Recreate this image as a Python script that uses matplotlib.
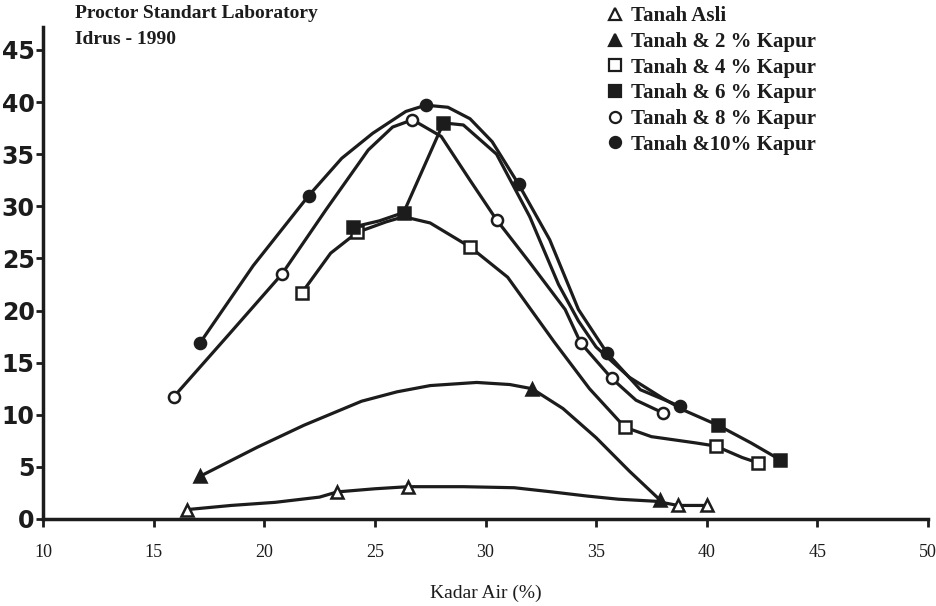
import matplotlib
matplotlib.use('Agg')
import matplotlib.pyplot as plt
from matplotlib.lines import Line2D

# (kadar air % vs value)
asli_x = [16.5, 18.5, 20.5, 22.5, 23.3, 25.0, 26.5, 29.0, 31.3, 33.0, 34.6, 36.0, 37.7, 38.7, 40.0]
asli_y = [0.9, 1.3, 1.6, 2.1, 2.6, 2.9, 3.1, 3.1, 3.0, 2.6, 2.2, 1.9, 1.7, 1.3, 1.3]
asli_marks = [0, 4, 6, 13, 14]

kapur2_x = [17.1, 19.7, 21.8, 24.4, 26.0, 27.5, 29.6, 31.1, 32.1, 33.5, 35.0, 36.5, 37.3, 37.9]
kapur2_y = [4.1, 6.9, 9.0, 11.3, 12.2, 12.8, 13.1, 12.9, 12.5, 10.6, 7.8, 4.6, 3.0, 1.8]
kapur2_marks = [0, 8, 13]

kapur4_x = [21.7, 23.0, 24.2, 25.5, 26.3, 27.5, 29.3, 31.0, 33.1, 34.7, 36.3, 37.5, 39.5, 40.4, 41.6, 42.3]
kapur4_y = [21.7, 25.5, 27.5, 28.5, 29.0, 28.4, 26.1, 23.2, 17.0, 12.5, 8.8, 7.9, 7.3, 7.0, 5.9, 5.4]
kapur4_marks = [0, 2, 6, 10, 13, 15]

kapur6_x = [24.0, 25.2, 26.3, 28.1, 29.0, 30.5, 32.0, 33.3, 34.2, 35.0, 36.5, 38.0, 39.0, 40.5, 42.0, 43.3]
kapur6_y = [28.0, 28.6, 29.4, 38.0, 37.8, 35.0, 29.0, 22.5, 19.0, 16.5, 13.6, 11.6, 10.4, 9.0, 7.3, 5.7]
kapur6_marks = [0, 2, 3, 13, 15]

kapur8_x = [15.9, 18.4, 20.8, 22.8, 24.7, 25.8, 26.7, 28.0, 29.3, 30.5, 32.0, 33.6, 34.3, 35.7, 36.8, 38.0]
kapur8_y = [11.7, 17.7, 23.5, 29.7, 35.4, 37.6, 38.3, 36.7, 32.5, 28.7, 24.6, 20.1, 16.9, 13.5, 11.4, 10.2]
kapur8_marks = [0, 2, 6, 9, 12, 13, 15]

kapur10_x = [17.1, 19.5, 22.0, 23.5, 24.9, 26.4, 27.3, 28.3, 29.3, 30.3, 31.5, 32.9, 34.2, 35.5, 37.0, 38.8]
kapur10_y = [16.9, 24.3, 31.0, 34.6, 37.0, 39.1, 39.7, 39.5, 38.4, 36.2, 32.1, 26.8, 20.1, 15.9, 12.4, 10.8]
kapur10_marks = [0, 2, 6, 10, 13, 15]

labels = ['Tanah Asli', 'Tanah & 2 % Kapur', 'Tanah & 4 % Kapur',
          'Tanah & 6 % Kapur', 'Tanah & 8 % Kapur', 'Tanah &10% Kapur']
markers = ['^', '^', 's', 's', 'o', 'o']
filled = [False, True, False, True, False, True]

xticks = [10, 15, 20, 25, 30, 35, 40, 45, 50]
yticks = [0, 5, 10, 15, 20, 25, 30, 35, 40, 45]

ink = '#1c1c1c'
serif = ['Liberation Serif', 'DejaVu Serif']

fig = plt.figure(figsize=(9.36, 6.06), dpi=100)
ax = fig.add_axes([43/936, 1 - 519/606, (928-43)/936, 492/606])

series = [(asli_x, asli_y, asli_marks), (kapur2_x, kapur2_y, kapur2_marks),
          (kapur4_x, kapur4_y, kapur4_marks), (kapur6_x, kapur6_y, kapur6_marks),
          (kapur8_x, kapur8_y, kapur8_marks), (kapur10_x, kapur10_y, kapur10_marks)]

for (xs, ys, mk), m, f in zip(series, markers, filled):
    ax.plot(xs, ys, color=ink, lw=2.3, marker=m, markevery=mk, ms=8,
            mfc=ink if f else 'white', mec=ink, mew=1.8, zorder=3)

ax.set_xlim(10, 50)
ax.set_ylim(0, 47.2)
ax.set_xticks(xticks)
ax.set_yticks(yticks)
ax.set_xticklabels([str(v) for v in xticks], family=serif, fontsize=13)
ax.set_yticklabels([str(v) for v in yticks], family=['Liberation Sans Narrow', 'DejaVu Sans'],
                   fontsize=17, fontweight='bold')
ax.tick_params(axis='x', direction='out', length=6, width=2, color=ink, pad=12, labelcolor=ink)
ax.tick_params(axis='y', direction='out', length=5, width=2, color=ink, pad=1, labelcolor=ink)
for s in ['top', 'right']:
    ax.spines[s].set_visible(False)
for s in ['left', 'bottom']:
    ax.spines[s].set_linewidth(2.5)
    ax.spines[s].set_color(ink)

ax.set_xlabel('Kadar Air (%)', family=serif, fontsize=14, color=ink, labelpad=17)

fig.text(75/936, 1 - 14/606, 'Proctor Standart Laboratory', family=serif, fontsize=14,
         fontweight='bold', va='center', color=ink)
fig.text(75/936, 1 - 40/606, 'Idrus - 1990', family=serif, fontsize=14,
         fontweight='bold', va='center', color=ink)

handles = [Line2D([], [], linestyle='none', marker=m, ms=8, mfc=ink if f else 'white',
                  mec=ink, mew=1.6) for m, f in zip(markers, filled)]
fig.legend(handles, labels, loc='upper left', bbox_to_anchor=(596/936, 1.01), frameon=False,
           handlelength=0.6, handletextpad=0.5, labelspacing=0.27, borderpad=0.1,
           prop={'family': serif, 'size': 15, 'weight': 'bold'}, labelcolor=ink)

fig.savefig('out.png', dpi=100)
